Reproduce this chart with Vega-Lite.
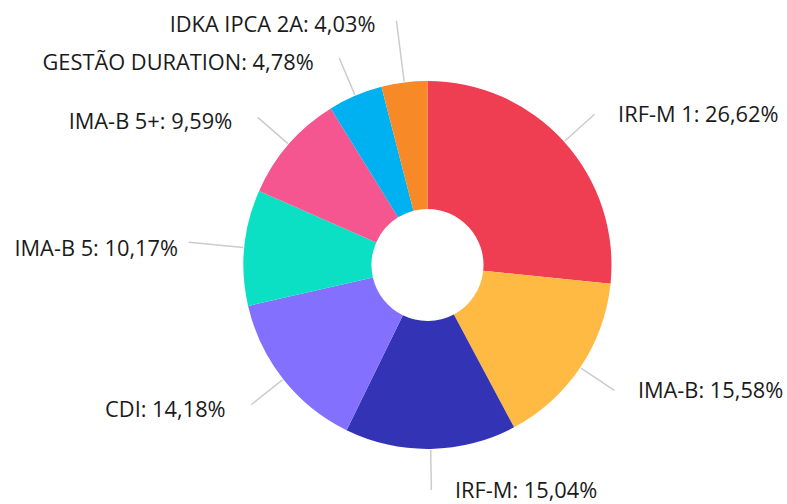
{
  "$schema": "https://vega.github.io/schema/vega-lite/v6.json",
  "width": 719,
  "height": 478,
  "autosize": {"type": "none"},
  "padding": {"left": 68, "top": 26, "right": 0, "bottom": 0},
  "background": "#ffffff",
  "config": {"view": {"stroke": null}, "text": {"font": "Open Sans"}},
  "data": {
    "values": [
      {"category": "IRF-M 1", "value": 26.62, "label": "IRF-M 1: 26,62%"},
      {"category": "IMA-B", "value": 15.58, "label": "IMA-B: 15,58%"},
      {"category": "IRF-M", "value": 15.04, "label": "IRF-M: 15,04%"},
      {"category": "CDI", "value": 14.18, "label": "CDI: 14,18%"},
      {"category": "IMA-B 5", "value": 10.17, "label": "IMA-B 5: 10,17%"},
      {"category": "IMA-B 5+", "value": 9.59, "label": "IMA-B 5+: 9,59%"},
      {"category": "GESTÃO DURATION", "value": 4.78, "label": "GESTÃO DURATION: 4,78%"},
      {"category": "IDKA IPCA 2A", "value": 4.03, "label": "IDKA IPCA 2A: 4,03%"}
    ]
  },
  "encoding": {
    "theta": {"field": "value", "type": "quantitative", "stack": true},
    "order": {"field": "value", "type": "quantitative", "sort": "descending"}
  },
  "layer": [
    {
      "mark": {"type": "arc", "innerRadius": 56, "outerRadius": 184},
      "encoding": {
        "color": {
          "field": "category",
          "type": "nominal",
          "legend": null,
          "scale": {
            "domain": ["IRF-M 1", "IMA-B", "IRF-M", "CDI", "IMA-B 5", "IMA-B 5+", "GESTÃO DURATION", "IDKA IPCA 2A"],
            "range": ["#EF3D52", "#FFBA44", "#3333B5", "#8470FF", "#0BDFC4", "#F65690", "#00B1F1", "#F78A27"]
          }
        }
      }
    },
    {
      "mark": {"type": "arc", "innerRadius": 185, "outerRadius": 225, "padAngle": 3.14159, "filled": false, "stroke": "#cccccc", "strokeWidth": 1.5},
      "encoding": {
        "strokeOpacity": {"condition": {"test": "datum.category === 'IMA-B 5' || datum.category === 'IDKA IPCA 2A'", "value": 0}, "value": 1}
      }
    },
    {
      "mark": {"type": "arc", "innerRadius": 185, "outerRadius": 240, "padAngle": 3.14159, "filled": false, "stroke": "#cccccc", "strokeWidth": 1.5},
      "encoding": {
        "strokeOpacity": {"condition": {"test": "datum.category === 'IMA-B 5'", "value": 1}, "value": 0}
      }
    },
    {
      "mark": {"type": "arc", "innerRadius": 185, "outerRadius": 246, "padAngle": 3.14159, "filled": false, "stroke": "#cccccc", "strokeWidth": 1.5},
      "encoding": {
        "strokeOpacity": {"condition": {"test": "datum.category === 'IDKA IPCA 2A'", "value": 1}, "value": 0}
      }
    },
    {
      "mark": {"type": "text", "radius": 225, "align": "left", "baseline": "middle", "dx": 23.6, "dy": 1, "fontSize": 21.8, "color": "#1a1a1a"},
      "encoding": {
        "text": {"condition": {"test": "datum.category === 'IRF-M 1' || datum.category === 'IMA-B' || datum.category === 'IRF-M'", "field": "label", "type": "nominal"}, "value": ""}
      }
    },
    {
      "mark": {"type": "text", "radius": 225, "align": "right", "baseline": "middle", "dx": -25.5, "dy": 5, "fontSize": 21.8, "color": "#1a1a1a"},
      "encoding": {
        "text": {"condition": {"test": "datum.category === 'CDI' || datum.category === 'IMA-B 5' || datum.category === 'IMA-B 5+' || datum.category === 'GESTÃO DURATION'", "field": "label", "type": "nominal"}, "value": ""}
      }
    },
    {
      "mark": {"type": "text", "radius": 246, "align": "right", "baseline": "middle", "dx": -21, "dy": 4, "fontSize": 21.8, "color": "#1a1a1a"},
      "encoding": {
        "text": {"condition": {"test": "datum.category === 'IDKA IPCA 2A'", "field": "label", "type": "nominal"}, "value": ""}
      }
    }
  ]
}
